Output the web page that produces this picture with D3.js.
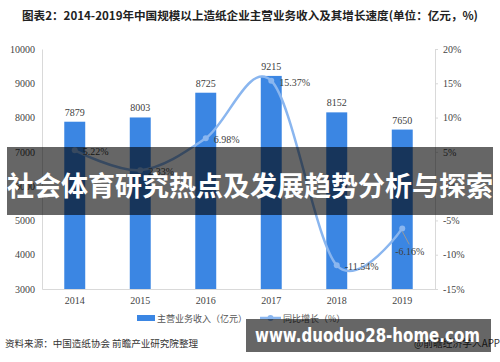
<!DOCTYPE html>
<html><head><meta charset="utf-8">
<script src="https://cdn.jsdelivr.net/npm/d3@7"></script>
<style>body{margin:0;background:#fff}svg{display:block}</style>
</head><body><svg id="c" width="500" height="362"></svg>
<script>
const years = ["2014","2015","2016","2017","2018","2019"];
const revenue = [7879, 8003, 8725, 9215, 8152, 7650];
const growth = [5.22, 2.33, 6.98, 15.37, -11.54, -6.16];
const leftTicks = [3000,4000,5000,6000,7000,8000,9000,10000];
const rightTicks = [-15,-10,-5,0,5,10,15,20];
const title = "图表2：2014-2019年中国规模以上造纸企业主营业务收入及其增长速度(单位：亿元，%)";
const source = "资料来源：中国造纸协会 前瞻产业研究院整理";
const brand = "@前瞻经济学人APP";
const legendNames = ["主营业务收入（亿元）","同比增长（%）"];
const overlayTitle = "社会体育研究热点及发展趋势分析与探索";
const overlayUrl = "www.duoduo28-home.com";

const svg = d3.select("#c");
const L = 42, R = 435, T = 49, B = 289;
const x = d3.scaleBand().domain(years).range([L, R]).paddingInner(0.68).paddingOuter(0.34);
const yL = d3.scaleLinear().domain([3000, 10000]).range([B, T]);
const yR = d3.scaleLinear().domain([-15, 20]).range([B, T]);
const serif = "'Liberation Serif','DejaVu Serif',serif";
const cjk = "'Noto Sans CJK SC','Noto Sans',sans-serif";

svg.append("text").attr("x", 22).attr("y", 20).attr("font-family", cjk).attr("font-weight", "bold")
  .attr("font-size", 11.5).attr("fill", "#222").attr("textLength", 456).attr("lengthAdjust", "spacingAndGlyphs").text(title);

// axes
const axL = svg.append("g").attr("transform", `translate(${L},0)`)
  .call(d3.axisLeft(yL).tickValues(leftTicks).tickSize(0).tickPadding(7).tickFormat(d3.format("d")));
axL.select(".domain").attr("stroke", "#d9d9d9");
axL.selectAll("text").attr("font-family", serif).attr("font-size", 10).attr("fill", "#444");
const axR = svg.append("g").attr("transform", `translate(${R},0)`)
  .call(d3.axisRight(yR).tickValues(rightTicks).tickSize(3).tickPadding(5).tickFormat(d => d + "%"));
axR.select(".domain").attr("stroke", "#d9d9d9");
axR.selectAll("line").attr("stroke", "#d9d9d9");
axR.selectAll("text").attr("font-family", serif).attr("font-size", 10).attr("fill", "#444");
const axB = svg.append("g").attr("transform", `translate(0,${B})`)
  .call(d3.axisBottom(x).tickSize(0).tickPadding(8));
axB.select(".domain").attr("stroke", "#d9d9d9");
axB.selectAll("text").attr("font-family", serif).attr("font-size", 10).attr("fill", "#444");

// bars
svg.selectAll("rect.bar").data(revenue).join("rect").attr("class", "bar")
  .attr("x", (d, i) => x(years[i])).attr("width", x.bandwidth())
  .attr("y", d => yL(d)).attr("height", d => B - yL(d)).attr("fill", "#3b86e3");
svg.selectAll("text.bl").data(revenue).join("text").attr("class", "bl")
  .attr("x", (d, i) => x(years[i]) + x.bandwidth() / 2).attr("y", d => yL(d) - 6)
  .attr("text-anchor", "middle").attr("font-family", serif).attr("font-size", 10).attr("fill", "#404040").text(d => d);

// line
const cx = i => x(years[i]) + x.bandwidth() / 2;
const line = d3.line().x((d, i) => cx(i)).y(d => yR(d)).curve(d3.curveCatmullRom.alpha(0));
svg.append("path").attr("d", line(growth)).attr("fill", "none").attr("stroke", "#8ab6ef").attr("stroke-width", 2.5);
svg.selectAll("circle.pt").data(growth).join("circle").attr("class", "pt")
  .attr("cx", (d, i) => cx(i)).attr("cy", d => yR(d)).attr("r", 3).attr("fill", "#8ab6ef");
const li = growth.length - 1;
svg.append("line").attr("x1", cx(li)).attr("y1", yR(growth[li]) + 3).attr("x2", cx(li) + 7).attr("y2", yR(growth[li]) + 16)
  .attr("stroke", "#999").attr("stroke-width", 1);
svg.selectAll("text.gl").data(growth).join("text").attr("class", "gl")
  .attr("x", (d, i) => i === li ? cx(i) - 7 : cx(i) + 8)
  .attr("y", (d, i) => i === li ? yR(d) + 27 : yR(d) + 5)
  .attr("font-family", serif).attr("font-size", 10).attr("fill", "#404040").text(d => d.toFixed(2) + "%");

// legend
svg.append("rect").attr("x", 137).attr("y", 315).attr("width", 18).attr("height", 6).attr("fill", "#3b86e3");
svg.append("text").attr("x", 157).attr("y", 321.5).attr("font-family", cjk).attr("font-size", 9).attr("fill", "#555").text(legendNames[0]);
svg.append("line").attr("x1", 260).attr("x2", 281).attr("y1", 318).attr("y2", 318).attr("stroke", "#8ab6ef").attr("stroke-width", 2.5);
svg.append("circle").attr("cx", 270.5).attr("cy", 318).attr("r", 3).attr("fill", "#8ab6ef");
svg.append("text").attr("x", 283).attr("y", 321.5).attr("font-family", cjk).attr("font-size", 9).attr("fill", "#555").text(legendNames[1]);

// source
svg.append("text").attr("x", 5).attr("y", 346.5).attr("font-family", cjk).attr("font-size", 9.5).attr("fill", "#333")
  .attr("textLength", 193).attr("lengthAdjust", "spacingAndGlyphs").text(source);
svg.append("text").attr("x", 414).attr("y", 346.5).attr("font-family", cjk).attr("font-size", 10).attr("fill", "#333")
  .attr("textLength", 86).attr("lengthAdjust", "spacingAndGlyphs").text(brand);

// overlays
svg.append("rect").attr("x", 7).attr("y", 147).attr("width", 486).attr("height", 68).attr("fill", "rgba(0,0,0,0.6)");
svg.append("text").attr("x", 7).attr("y", 196).attr("font-family", cjk).attr("font-weight", "bold").attr("font-size", 27)
  .attr("fill", "#fff").attr("textLength", 486).attr("lengthAdjust", "spacingAndGlyphs").text(overlayTitle);
svg.append("rect").attr("x", 246).attr("y", 319).attr("width", 245).attr("height", 33).attr("fill", "rgba(0,0,0,0.6)");
svg.append("text").attr("x", 255).attr("y", 342).attr("font-family", "'DejaVu Sans',sans-serif").attr("font-weight", "bold").attr("font-size", 19)
  .attr("fill", "#fff").attr("textLength", 225).attr("lengthAdjust", "spacingAndGlyphs").text(overlayUrl);
</script></body></html>
